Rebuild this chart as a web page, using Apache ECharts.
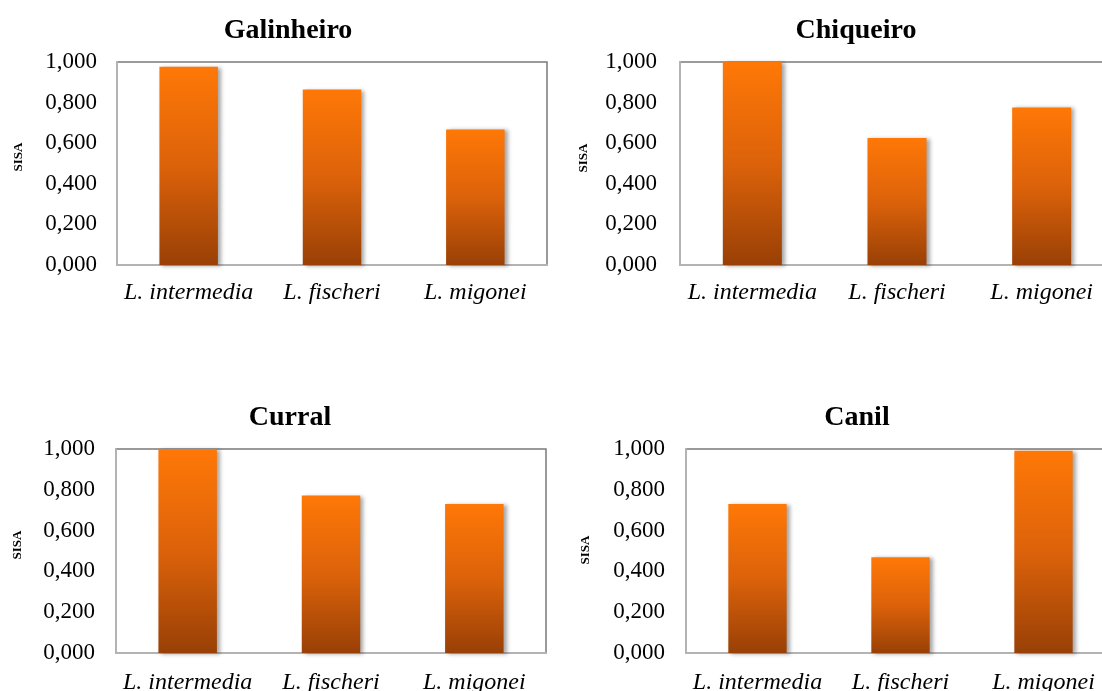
<!DOCTYPE html>
<html>
<head>
<meta charset="utf-8">
<script src="https://cdn.jsdelivr.net/npm/echarts@6/dist/echarts.min.js"></script>
<style>
  html, body { margin: 0; padding: 0; background: #ffffff; }
  #chart { width: 1102px; height: 691px; }
</style>
</head>
<body>
<div id="chart"></div>
<script>
// Species compared in every panel
const species = ['L. intermedia', 'L. fischeri', 'L. migonei'];

// SISA per site
const galinheiro = [0.977, 0.864, 0.668];
const chiqueiro  = [1.000, 0.626, 0.776];
const curral     = [1.000, 0.772, 0.730];
const canil      = [0.730, 0.469, 0.991];

// Value axis ticks
const yTicks = [0, 0.2, 0.4, 0.6, 0.8, 1.0];

const panelTitles = ['Galinheiro', 'Chiqueiro', 'Curral', 'Canil'];
const panelValues = [galinheiro, chiqueiro, curral, canil];

const FONT = '"Liberation Serif", "Times New Roman", serif';

// Panel layout (pixels)
const grids = [
  { left: 117, top: 62,  width: 430, height: 203 },
  { left: 680, top: 62,  width: 434, height: 203 },
  { left: 116, top: 449, width: 430, height: 204 },
  { left: 686, top: 449, width: 429, height: 204 }
];
const titlePos = [
  { x: 283, y: 12 }, { x: 851, y: 12 }, { x: 285, y: 399 }, { x: 852, y: 399 }
];
const sisaPos = [
  { x: 19, y: 157 }, { x: 584, y: 158 }, { x: 18, y: 545 }, { x: 586, y: 550 }
];
const labelGap = [20, 23, 21, 21];

const barGradient = new echarts.graphic.LinearGradient(0, 0, 0, 1, [
  { offset: 0, color: '#ff7807' },
  { offset: 0.5, color: '#dc620a' },
  { offset: 1, color: '#994006' }
]);

const option = {
  backgroundColor: '#ffffff',
  animation: false,
  title: panelTitles.map((t, i) => ({
    text: t,
    left: titlePos[i].x,
    top: titlePos[i].y,
    textAlign: 'center',
    textStyle: { fontFamily: FONT, fontWeight: 'bold', fontSize: 28, color: '#000' }
  })),
  graphic: sisaPos.map(p => ({
    type: 'text',
    x: p.x,
    y: p.y,
    rotation: Math.PI / 2,
    style: {
      text: 'SISA',
      font: 'bold 13px ' + FONT,
      fill: '#000',
      align: 'center',
      verticalAlign: 'middle'
    }
  })),
  // fixed pixel panels; labels may sit near the canvas edge
  grid: grids.map(g => Object.assign({
    show: true,
    borderColor: '#7a7a7a',
    borderWidth: 1.5,
    backgroundColor: 'transparent',
    containLabel: false,
    outerBoundsMode: 'none'
  }, g)),
  xAxis: grids.map((g, i) => ({
    type: 'category',
    gridIndex: i,
    data: species,
    axisLine: { show: true, lineStyle: { color: '#b3b3b3', width: 2 } },
    axisTick: { show: false },
    axisLabel: {
      fontFamily: FONT, fontStyle: 'italic', fontSize: 24, color: '#000',
      margin: i < 2 ? 16 : 18, interval: 0
    }
  })),
  yAxis: grids.map((g, i) => ({
    type: 'value',
    gridIndex: i,
    min: yTicks[0],
    max: yTicks[yTicks.length - 1],
    interval: 0.2,
    axisLine: { show: true, lineStyle: { color: '#b3b3b3', width: 2 } },
    axisTick: { show: false },
    splitLine: { show: false },
    axisLabel: {
      fontFamily: FONT, fontSize: 23, color: '#000', margin: labelGap[i],
      formatter: v => v.toFixed(3).replace('.', ',')
    }
  })),
  series: panelValues.map((vals, i) => ({
    type: 'bar',
    xAxisIndex: i,
    yAxisIndex: i,
    data: vals,
    barWidth: '40.8%',
    itemStyle: {
      color: barGradient,
      shadowColor: 'rgba(0,0,0,0.35)',
      shadowBlur: 4,
      shadowOffsetX: 3,
      shadowOffsetY: 1
    }
  }))
};

const chart = echarts.init(document.getElementById('chart'), null, { renderer: 'canvas' });
chart.setOption(option);
</script>
</body>
</html>
